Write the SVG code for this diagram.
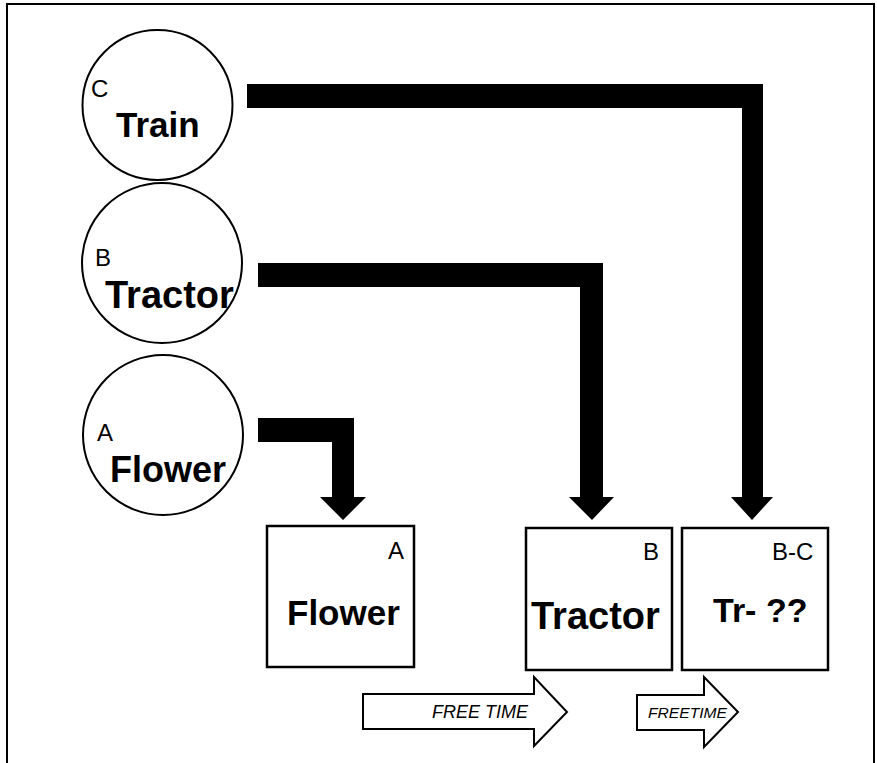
<svg xmlns="http://www.w3.org/2000/svg" width="877" height="763" viewBox="0 0 877 763">
<style>
.frame{fill:#fff;stroke:#000;stroke-width:2}
.circ{fill:#fff;stroke:#000;stroke-width:2}
.box{fill:#fff;stroke:#000;stroke-width:2.5}
.conn{fill:#000;stroke:none}
.tl{font-family:"Liberation Sans",Arial,sans-serif;fill:#000}
.small{font-size:24px}
.big{font-size:35px;font-weight:bold}
.ft{font-family:"Liberation Sans",Arial,sans-serif;font-style:italic;fill:#000}
.fa{fill:#fff;stroke:#000;stroke-width:2}
</style>
<rect class="frame" x="7" y="4" width="867" height="770"/>
<g id="connectors">
<path class="conn" d="M247,84 H763 V497 H773 L752,520 L731,497 H742 V108 H247 Z"/>
<path class="conn" d="M258,263 H603 V497 H614 L592,520 L569,497 H580 V287 H258 Z"/>
<path class="conn" d="M258,418 H354 V497 H366 L343,520 L320,497 H332 V442 H258 Z"/>
</g>
<g id="nodeC">
<circle class="circ" cx="157.5" cy="105" r="75"/>
<text class="tl small" x="91" y="97">C</text>
<text class="tl big" x="116" y="137">Train</text>
</g>
<g id="nodeB">
<circle class="circ" cx="162" cy="263" r="80"/>
<text class="tl small" x="95" y="266">B</text>
<text class="tl big" x="105" y="308" style="font-size:38px">Tractor</text>
</g>
<g id="nodeA">
<circle class="circ" cx="163" cy="435" r="80"/>
<text class="tl small" x="97" y="441">A</text>
<text class="tl big" x="110" y="482" style="font-size:36px">Flower</text>
</g>
<g id="boxA">
<rect class="box" x="267" y="526" width="147" height="141"/>
<text class="tl small" x="388" y="559">A</text>
<text class="tl big" x="287" y="625">Flower</text>
</g>
<g id="boxB">
<rect class="box" x="526" y="528" width="146" height="142"/>
<text class="tl small" x="643" y="560">B</text>
<text class="tl big" x="531" y="629" style="font-size:38px">Tractor</text>
</g>
<g id="boxBC">
<rect class="box" x="682" y="528" width="146" height="142"/>
<text class="tl small" x="772" y="560">B-C</text>
<text class="tl big" x="713" y="622" style="font-size:34px">Tr- ??</text>
</g>
<g id="arrow1">
<path class="fa" d="M363,694 H534 V677 L567,712 L534,746 V729 H363 Z"/>
<text class="ft" x="432" y="718" style="font-size:18px">FREE TIME</text>
</g>
<g id="arrow2">
<path class="fa" d="M637,695 H704 V677 L738,712 L704,747 V730 H637 Z"/>
<text class="ft" x="648" y="718" style="font-size:15px" textLength="79" lengthAdjust="spacingAndGlyphs">FREETIME</text>
</g>
</svg>
